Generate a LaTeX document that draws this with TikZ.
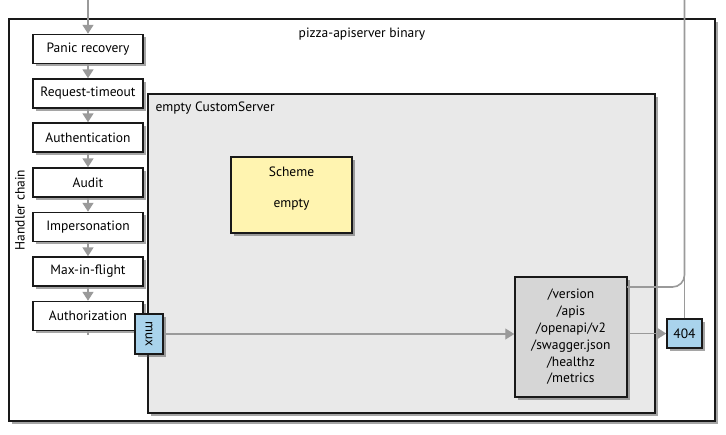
\documentclass[tikz,border=0pt]{standalone}
\usepackage{fontspec}
\setmainfont{PT Sans}
\usetikzlibrary{shadows,arrows.meta}
\definecolor{arrowgray}{HTML}{9A9A9A}
\definecolor{srvgray}{HTML}{E9E9E9}
\definecolor{pathgray}{HTML}{D6D6D6}
\definecolor{schemeyellow}{HTML}{FFF4B0}
\definecolor{muxblue}{HTML}{A9D3EC}
\begin{document}
\begin{tikzpicture}[x=1pt,y=-1pt,
  txt/.style={font=\fontsize{13.5}{16}\selectfont},
  shadowed/.style={drop shadow={shadow xshift=2.5pt,shadow yshift=-2.5pt,opacity=0.5,fill=black!70}},
  box/.style={draw=black!90,line width=1.5pt,shadowed,txt,inner sep=0pt},
  chainbox/.style={box,fill=white,minimum width=110pt,minimum height=29pt},
  tip/.style={-{Triangle[width=11pt,length=9pt]}},
  flow/.style={draw=arrowgray,line width=1.6pt,tip},
  plain/.style={draw=arrowgray,line width=1.6pt}]
\useasboundingbox (0,0) rectangle (726,434);
% outer binary box
\node[box,fill=white,minimum width=706pt,minimum height=402pt,line width=1.6pt] (outer) at (362,220) {};
\node[txt] (title) at (362,34) {pizza-apiserver binary};
\node[txt,rotate=90] (hc) at (20,210) {Handler chain};
% custom server
\node[box,fill=srvgray,minimum width=507pt,minimum height=319pt] (srv) at (401.5,253.5) {};
\node[txt,anchor=west] (srvlabel) at (152,108) {empty CustomServer};
\node[box,fill=schemeyellow,minimum width=121pt,minimum height=76pt] (scheme) at (291.5,195) {};
\node[txt] (schemet) at (291.5,172) {Scheme};
\node[txt] (schemev) at (291.5,205) {empty};
\node[box,fill=pathgray,minimum width=112pt,minimum height=120pt,align=center,font=\fontsize{13.5}{16.8}\selectfont] (paths) at (571,337) {/version\\/apis\\/openapi/v2\\/swagger.json\\/healthz\\/metrics};
\node[box,fill=muxblue,minimum width=35pt,minimum height=29pt] (nf) at (684.5,333.5) {404};
% handler chain
\node[chainbox] (panic) at (88,49) {Panic recovery};
\node[chainbox] (timeout) at (88,93.5) {Request-timeout};
\node[chainbox] (authn) at (88,137.5) {Authentication};
\node[chainbox] (audit) at (88,182.5) {Audit};
\node[chainbox] (imp) at (88,227) {Impersonation};
\node[chainbox] (mif) at (88,271.5) {Max-in-flight};
\node[chainbox] (authz) at (88,316) {Authorization};
\node[box,fill=muxblue,minimum width=28pt,minimum height=40pt] (mux) at (149,334) {\rotatebox{-90}{mux}};
% connectors
\coordinate (in) at (88,0);
\draw[flow] (in) -- (panic.north);
\draw[flow] (panic.south) -- (timeout.north);
\draw[flow] (timeout.south) -- (authn.north);
\draw[flow] (authn.south) -- (audit.north);
\draw[flow] (audit.south) -- (imp.north);
\draw[flow] (imp.south) -- (mif.north);
\draw[flow] (mif.south) -- (authz.north);
\draw[draw=arrowgray,line width=1.2pt] (authz.south) -- ++(0,4);
\draw[draw=arrowgray,line width=1.2pt,tip] (mux.east) -- (mux.east -| paths.west);
\draw[flow] (paths.east |- nf.west) -- (nf.west);
\coordinate (out) at (684.5,0);
\coordinate (ver) at (627,287);
\draw[plain] (nf.north) -- (out);
\draw[plain,rounded corners=12pt] (ver) -- (ver -| nf.north) -- (out);
\end{tikzpicture}
\end{document}
